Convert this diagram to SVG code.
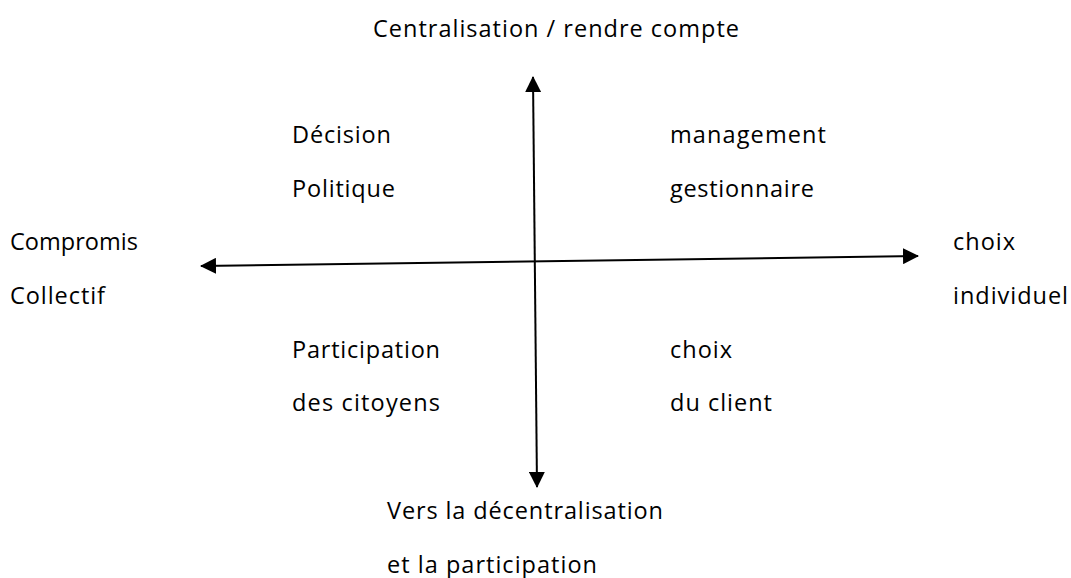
<svg xmlns="http://www.w3.org/2000/svg" width="1071" height="578" viewBox="0 0 1071 578">
<style>
text{font-family:"Open Sans","Liberation Sans",sans-serif;font-size:23.5px;fill:#000}
.ax{stroke:#000;stroke-width:2;fill:none}
</style>
<defs>
<marker id="ah" viewBox="0 0 16 16" refX="15" refY="8" markerWidth="16" markerHeight="16" markerUnits="userSpaceOnUse" orient="auto-start-reverse">
<path d="M0,0 L16,8 L0,16 Z" fill="#000"/>
</marker>
</defs>
<rect width="1071" height="578" fill="#fff"/>
<g id="connectors">
<line class="ax" x1="533" y1="77" x2="537" y2="487" marker-start="url(#ah)" marker-end="url(#ah)"/>
<line class="ax" x1="201" y1="266" x2="918" y2="256" marker-start="url(#ah)" marker-end="url(#ah)"/>
</g>
<g id="top"><text x="373" y="37" textLength="366">Centralisation / rendre compte</text></g>
<g id="q-top-left"><text x="292" y="143" textLength="99">Décision</text><text x="292" y="197" textLength="103">Politique</text></g>
<g id="q-top-right"><text x="670" y="143" textLength="156">management</text><text x="670" y="197" textLength="144">gestionnaire</text></g>
<g id="left"><text x="10" y="250" textLength="128">Compromis</text><text x="10" y="304" textLength="95">Collectif</text></g>
<g id="right"><text x="953" y="250" textLength="62">choix</text><text x="953" y="304" textLength="115">individuel</text></g>
<g id="q-bottom-left"><text x="292" y="358" textLength="148">Participation</text><text x="292" y="411" textLength="148">des citoyens</text></g>
<g id="q-bottom-right"><text x="670" y="358" textLength="62">choix</text><text x="670" y="411" textLength="102">du client</text></g>
<g id="bottom"><text x="387" y="519" textLength="276">Vers la décentralisation</text><text x="387" y="573" textLength="210">et la participation</text></g>
</svg>
